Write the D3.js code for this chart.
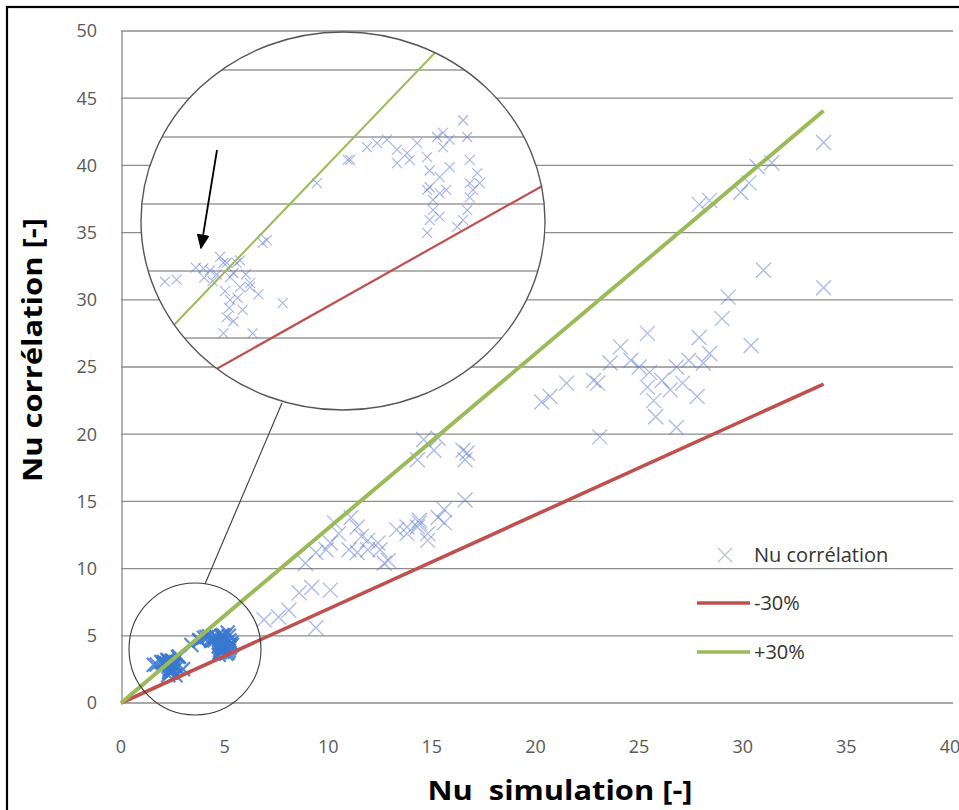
<!DOCTYPE html>
<html><head><meta charset="utf-8">
<script src="https://cdn.jsdelivr.net/npm/d3@7"></script>
<style>body{margin:0;background:#fff}</style>
</head><body><svg id="c" width="959" height="810"></svg>
<script>
// ---------- data ----------
const xTicks = [0, 5, 10, 15, 20, 25, 30, 35, 40];
const yTicks = [0, 5, 10, 15, 20, 25, 30, 35, 40, 45, 50];
const insetYTicks = [2, 3, 4, 5, 6];
const seriesNames = ["Nu corrélation", "-30%", "+30%"];
const xTitle = "Nu  simulation [-]";
const yTitle = "Nu corrélation [-]";

// scattered points (Nu simulation, Nu corrélation)
const simX = [33.9,30.7,31.4,30.3,29.9,27.9,28.4,31.0,33.9,29.3,29.0,30.4,
  20.7,21.5,23.0,24.1,25.4,25.5,25.4,25.7,25.8,26.8,23.1,26.8,27.4,27.9,28.1,26.1,26.5,27.1,27.8,28.4,25.0,24.6,23.6,22.8,20.3,
  14.6,14.3,15.1,16.7,16.6,15.6,15.3,13.3,13.8,12.5,11.4,10.5,10.1,9.4,8.9,11.0,12.9,11.9,14.3,14.8,14.4,15.6,13.8,12.4,12.7,11.4,10.3,11.1,9.9,11.6,14.4,14.8,11.9,16.6,16.5,15.3,
  9.2,10.1,8.6,8.1,9.4,6.9,7.6];
const corrY = [41.7,39.9,40.2,38.7,38.0,37.1,37.4,32.2,30.9,30.2,28.6,26.6,
  22.8,23.8,23.8,26.5,27.5,24.6,23.5,22.5,21.3,20.5,19.8,25.0,25.5,27.2,25.3,24.0,23.3,23.8,22.8,26.0,25.0,25.5,25.3,24.0,22.4,
  19.6,18.1,18.8,18.6,15.1,14.4,13.8,12.9,12.6,11.4,13.1,12.6,11.9,11.2,10.4,11.4,10.6,12.1,13.1,12.1,13.6,13.4,13.1,11.9,10.4,11.2,13.4,13.8,11.4,12.4,13.4,12.6,11.4,18.1,18.8,19.7,
  8.6,8.4,8.2,6.9,5.6,6.2,6.4];

// low-range points (shown in main chart and magnified in the inset)
const lowSimX = [1.58,1.72,2.04,2.12,2.28,2.44,2.36,2.60,2.75,2.80,2.32,2.40,2.48,2.60,2.36,2.32,2.28,2.63,2.99,2.51,2.48,2.24,2.30,2.45,2.20,2.55,2.70,2.40,2.15,1.95,2.05,2.35,
  3.40,3.77,
  3.80,4.00,4.12,4.24,4.36,4.48,4.60,4.72,4.84,4.91,4.99,5.15,5.20,4.75,4.87,4.99,5.23,5.32,5.23,4.75,4.79,4.72,4.87,4.95,4.79,4.75,4.72,4.87,5.20,5.23,5.15,5.08,5.27,5.35,4.51,4.36,4.91];
const lowCorrY = [2.84,2.87,3.04,3.01,3.12,3.12,2.91,2.76,3.42,3.46,3.12,2.97,2.76,2.82,2.57,2.31,2.07,2.07,2.52,2.42,3.16,3.21,2.70,2.60,2.95,2.95,2.65,2.25,2.85,3.05,2.90,2.45,
  4.31,4.66,
  4.66,4.85,4.91,4.96,4.61,4.76,4.91,4.70,5.00,4.85,4.96,5.25,5.00,4.50,4.40,4.55,4.66,4.46,4.31,4.25,4.06,4.21,4.16,4.21,3.91,3.76,3.57,3.81,3.91,4.10,3.76,3.66,4.21,4.31,4.66,4.81,5.06];

const bandX = [0, 33.9];
const minusFactor = 0.7, plusFactor = 1.3;

// ---------- layout ----------
const svg = d3.select("#c");
const x = d3.scaleLinear().domain([0, 40]).range([121, 950]);
const y = d3.scaleLinear().domain([0, 50]).range([703, 31]);
const gridRight = 953;
const blue = "#5a74cf", red = "#c0504d", green = "#9bbb59", txt = "#595959";

const pts = simX.map((v, i) => ({x: v, y: corrY[i]}));
const low = lowSimX.map((v, i) => ({x: v, y: lowCorrY[i]}));
const lineMinus = bandX.map(v => ({x: v, y: v * minusFactor}));
const linePlus = bandX.map(v => ({x: v, y: v * plusFactor}));

function cross(sel, data, sx, sy, s, color, op, w) {
  sel.selectAll(null).data(data).enter().append("path")
    .attr("d", `M${-s},${-s}L${s},${s}M${-s},${s}L${s},${-s}`)
    .attr("transform", d => `translate(${sx(d.x)},${sy(d.y)})`)
    .attr("fill", "none").attr("stroke", color).attr("stroke-opacity", op).attr("stroke-width", w);
}

// outer frame
svg.append("rect").attr("x", 7).attr("y", 7).attr("width", 970).attr("height", 820)
  .attr("fill", "#fff").attr("stroke", "#000").attr("stroke-width", 2.2);

// gridlines
svg.append("g").selectAll("line").data(yTicks).enter().append("line")
  .attr("x1", x(0)).attr("x2", gridRight).attr("y1", d => y(d)).attr("y2", d => y(d))
  .attr("stroke", "#8c8c8c").attr("stroke-width", 1.3);
// y axis line
svg.append("line").attr("x1", x(0) + 1).attr("x2", x(0) + 1).attr("y1", y(50)).attr("y2", y(0))
  .attr("stroke", "#8c8c8c").attr("stroke-width", 1.3);

// main markers
const gm = svg.append("g");
cross(gm, pts, x, y, 7.5, blue, 0.5, 1.3);
cross(gm, low, x, y, 7, "#3a78d0", 0.85, 2.2);

const line = (sx, sy) => d3.line().x(d => sx(d.x)).y(d => sy(d.y));
svg.append("path").datum(lineMinus).attr("d", line(x, y)).attr("fill", "none")
  .attr("stroke", red).attr("stroke-width", 3.6);
svg.append("path").datum(linePlus).attr("d", line(x, y)).attr("fill", "none")
  .attr("stroke", green).attr("stroke-width", 4);

// small circle + connector
svg.append("circle").attr("cx", 195).attr("cy", 649).attr("r", 66)
  .attr("fill", "none").attr("stroke", "#3a3a3a").attr("stroke-width", 1.1);
svg.append("line").attr("x1", 205).attr("y1", 584).attr("x2", 282).attr("y2", 403)
  .attr("stroke", "#3a3a3a").attr("stroke-width", 1.1);

// inset
const E = {cx: 343, cy: 221, rx: 202, ry: 189};
const xIn = d3.scaleLinear().domain([0, 6]).range([33, 534]);
const yIn = d3.scaleLinear().domain([0, 6]).range([472, 70]);
const defs = svg.append("defs");
defs.append("clipPath").attr("id", "clipE").append("ellipse")
  .attr("cx", E.cx).attr("cy", E.cy).attr("rx", E.rx).attr("ry", E.ry);
const gi = svg.append("g").attr("clip-path", "url(#clipE)");
gi.append("ellipse").attr("cx", E.cx).attr("cy", E.cy).attr("rx", E.rx).attr("ry", E.ry).attr("fill", "#fff");
gi.selectAll("line.g").data(insetYTicks).enter().append("line")
  .attr("x1", E.cx - E.rx).attr("x2", E.cx + E.rx).attr("y1", d => yIn(d)).attr("y2", d => yIn(d))
  .attr("stroke", "#9a9a9a").attr("stroke-width", 1.6);
cross(gi, low, xIn, yIn, 5, "#6b7fd3", 0.6, 1.1);
gi.append("path").datum(lineMinus).attr("d", line(xIn, yIn)).attr("fill", "none")
  .attr("stroke", red).attr("stroke-width", 2.2);
gi.append("path").datum(linePlus).attr("d", line(xIn, yIn)).attr("fill", "none")
  .attr("stroke", green).attr("stroke-width", 2);
svg.append("ellipse").attr("cx", E.cx).attr("cy", E.cy).attr("rx", E.rx).attr("ry", E.ry)
  .attr("fill", "none").attr("stroke", "#555").attr("stroke-width", 1.4);

// arrow
defs.append("marker").attr("id", "ah").attr("viewBox", "0 0 10 10").attr("refX", 9).attr("refY", 5)
  .attr("markerWidth", 15).attr("markerHeight", 13).attr("orient", "auto-start-reverse")
  .attr("markerUnits", "userSpaceOnUse").attr("preserveAspectRatio", "none")
  .append("path").attr("d", "M0,0L10,5L0,10Z").attr("fill", "#000");
svg.append("line").attr("x1", 217).attr("y1", 150).attr("x2", 201).attr("y2", 248)
  .attr("stroke", "#000").attr("stroke-width", 1.8).attr("marker-end", "url(#ah)");

// tick labels
svg.append("g").selectAll("text").data(yTicks).enter().append("text")
  .attr("x", 97).attr("y", d => y(d)).attr("dy", "0.35em").attr("text-anchor", "end")
  .attr("font-family", "Open Sans, sans-serif").attr("font-size", 18).attr("fill", txt)
  .text(d => d);
svg.append("g").selectAll("text").data(xTicks).enter().append("text")
  .attr("x", d => x(d)).attr("y", 747).attr("dy", "0.35em").attr("text-anchor", "middle")
  .attr("font-family", "Open Sans, sans-serif").attr("font-size", 18).attr("fill", txt)
  .text(d => d);

// titles
svg.append("text").attr("x", 560).attr("y", 800).attr("text-anchor", "middle")
  .attr("font-family", "Open Sans, sans-serif").attr("font-weight", "bold").attr("font-size", 26)
  .attr("fill", "#000").attr("textLength", 265).attr("lengthAdjust", "spacingAndGlyphs")
  .style("white-space", "pre").text(xTitle);
svg.append("text").attr("transform", "translate(42,350) rotate(-90)").attr("text-anchor", "middle")
  .attr("font-family", "Open Sans, sans-serif").attr("font-weight", "bold").attr("font-size", 26)
  .attr("fill", "#000").attr("textLength", 264).attr("lengthAdjust", "spacingAndGlyphs")
  .text(yTitle);

// legend
const lg = svg.append("g");
const legY = [555, 603, 652];
cross(lg, [{x: 725, y: legY[0]}], d => d, d => d, 7, "#a0a8c0", 0.7, 1.3);
lg.selectAll("path").attr("transform", `translate(725,${legY[0]})`);
lg.append("line").attr("x1", 697).attr("x2", 750).attr("y1", legY[1]).attr("y2", legY[1])
  .attr("stroke", red).attr("stroke-width", 3.6);
lg.append("line").attr("x1", 697).attr("x2", 750).attr("y1", legY[2]).attr("y2", legY[2])
  .attr("stroke", green).attr("stroke-width", 3.6);
lg.selectAll("text").data(seriesNames).enter().append("text")
  .attr("x", 754).attr("y", (d, i) => legY[i]).attr("dy", "0.35em")
  .attr("font-family", "Open Sans, sans-serif").attr("font-size", 20).attr("fill", "#333")
  .text(d => d);
</script></body></html>
